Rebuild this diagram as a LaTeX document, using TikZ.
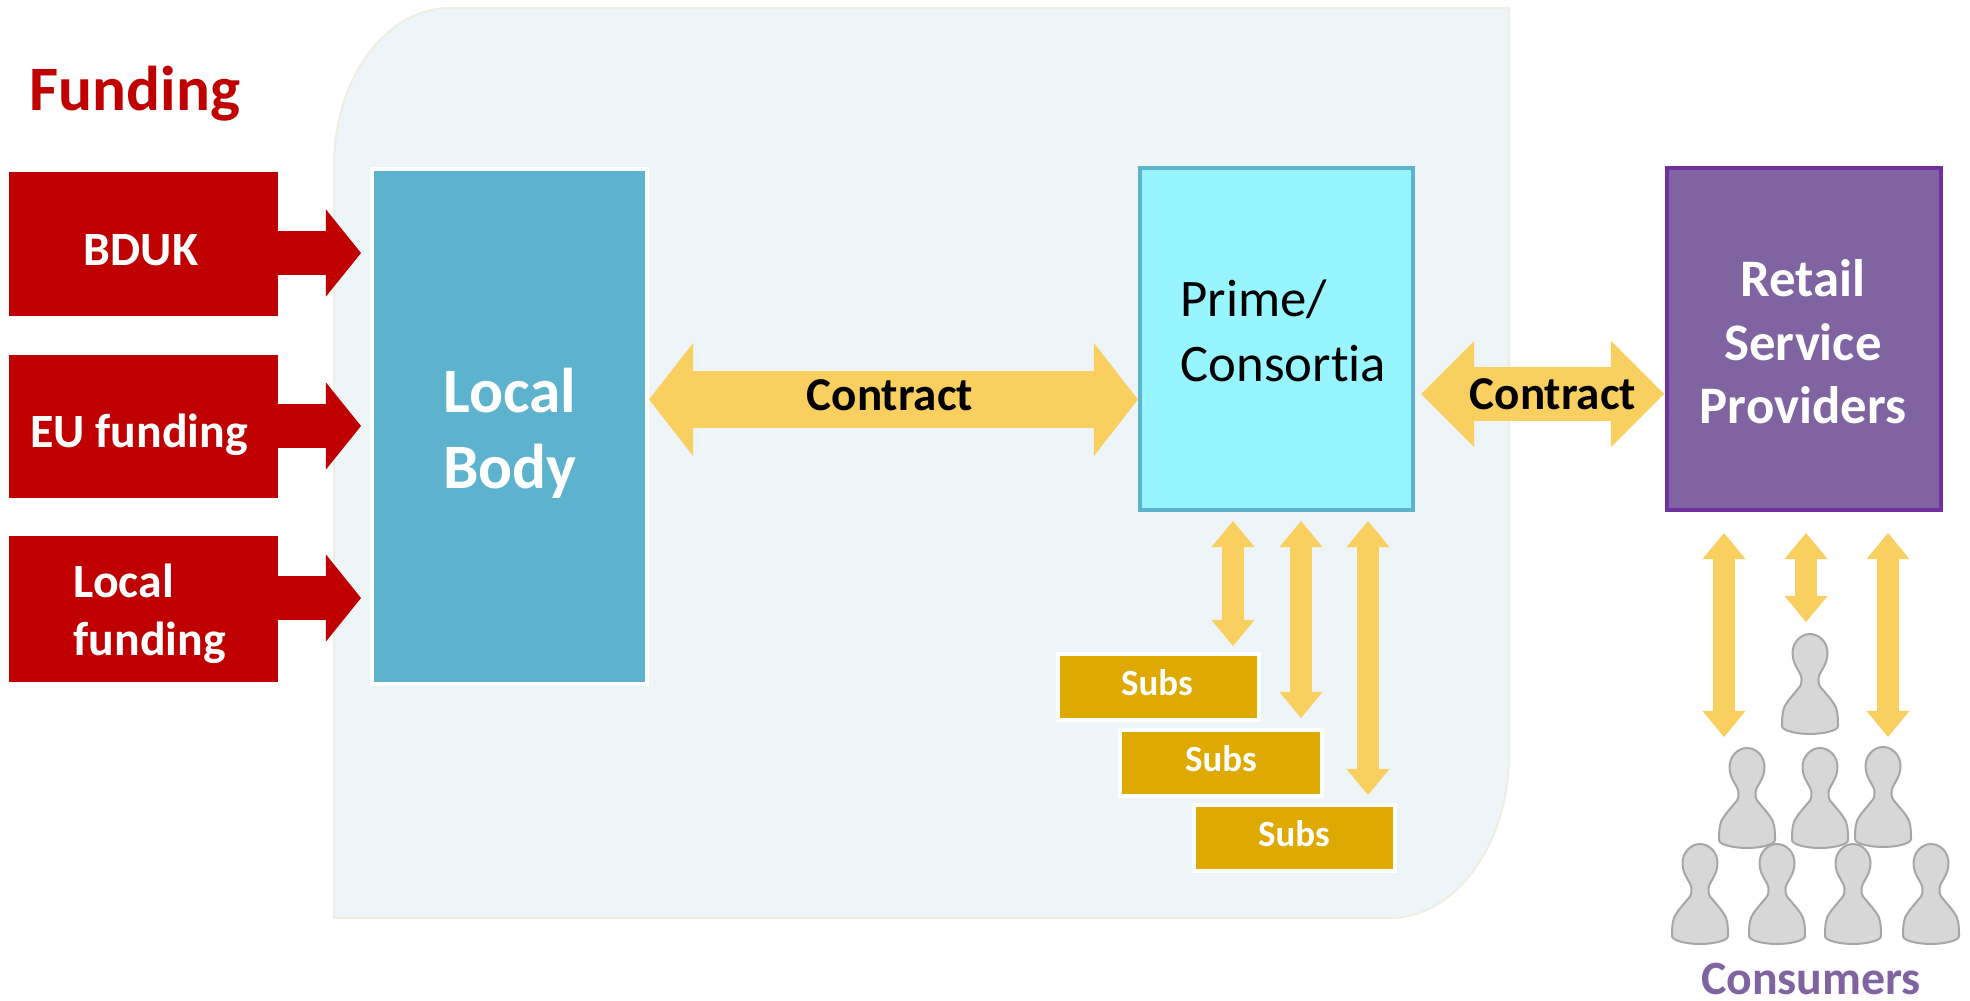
\documentclass[tikz,border=0pt]{standalone}
\usepackage{fontspec}
\setmainfont{Carlito}[Ligatures=NoCommon]
\usepackage{tikz}
\usetikzlibrary{arrows.meta, calc, positioning}
\definecolor{fundred}{RGB}{192,0,0}
\definecolor{panelblue}{RGB}{237,245,248}
\definecolor{paneledge}{RGB}{238,238,226}
\definecolor{bodyblue}{RGB}{93,179,206}
\definecolor{primecyan}{RGB}{151,245,255}
\definecolor{retailpurple}{RGB}{128,100,162}
\definecolor{retailedge}{RGB}{112,48,160}
\definecolor{contractgold}{RGB}{249,207,95}
\definecolor{subsgold}{RGB}{222,169,0}
\definecolor{pawnfill}{RGB}{215,215,215}
\definecolor{pawnedge}{RGB}{166,166,166}

\begin{document}
\begin{tikzpicture}[
  x=0.01cm, y=-0.01cm,
  fund/.style={rectangle, fill=fundred, inner sep=0pt, minimum width=2.69cm},
  fundtext/.style={inner sep=0pt, text=white, font=\fontsize{13.6}{16.4}\selectfont\bfseries, align=left},
  body/.style={rectangle, draw=white, line width=0.04cm, fill=bodyblue, minimum width=2.75cm, minimum height=5.15cm},
  prime/.style={rectangle, draw=bodyblue, line width=0.04cm, fill=primecyan, minimum width=2.73cm, minimum height=3.41cm},
  retail/.style={rectangle, draw=retailedge, line width=0.04cm, fill=retailpurple, minimum width=2.74cm, minimum height=3.41cm},
  subs/.style={rectangle, draw=white, line width=0.04cm, fill=subsgold, minimum width=2.01cm, minimum height=0.66cm},
  subtext/.style={text=white, inner sep=0pt, font=\fontsize{10.5}{12}\selectfont\bfseries},
  fundarrow/.style={-{Triangle[length=0.35cm, width=0.87cm, line width=0pt]}, draw=fundred, line width=0.44cm},
  bigarrow/.style={{Triangle[length=0.44cm, width=1.13cm, line width=0pt]}-{Triangle[length=0.44cm, width=1.13cm, line width=0pt]}, draw=contractgold, line width=0.57cm},
  rsparrow/.style={{Triangle[length=0.53cm, width=1.06cm, line width=0pt]}-{Triangle[length=0.53cm, width=1.06cm, line width=0pt]}, draw=contractgold, line width=0.54cm},
  slimarrow/.style={{Triangle[length=0.26cm, width=0.43cm, line width=0pt]}-{Triangle[length=0.26cm, width=0.43cm, line width=0pt]}, draw=contractgold, line width=0.22cm},
  contract/.style={inner sep=0pt, anchor=base, font=\fontsize{13.4}{16}\selectfont\bfseries},
  pawn/.pic={
    \path[draw=pawnedge, fill=pawnfill, line width=0.02cm]
      (-28,92) .. controls (-28,80) and (-27,74) .. (-24,70)
      .. controls (-21,65) and (-16,60) .. (-13,56)
      .. controls (-9,52) and (-8.5,50) .. (-8.5,45)
      .. controls (-8.5,38) and (-17.5,32) .. (-17.5,19)
      .. controls (-17.5,8) and (-9,0) .. (0,0)
      .. controls (9,0) and (17.5,8) .. (17.5,19)
      .. controls (17.5,32) and (8.5,38) .. (8.5,45)
      .. controls (8.5,50) and (9,52) .. (13,56)
      .. controls (16,60) and (21,65) .. (24,70)
      .. controls (27,74) and (28,80) .. (28,92)
      .. controls (28,97) and (12,100) .. (0,100)
      .. controls (-12,100) and (-28,97) .. (-28,92) -- cycle;
  }
]
\useasboundingbox (0,0) rectangle (1970,1000);

% --- Hintergrund ---
\path[fill=panelblue, draw=paneledge, line width=0.02cm]
  (334,165) .. controls (334,80) and (385,8) .. (450,8) -- (1509,8) -- (1509,755)
  .. controls (1509,845) and (1455,918) .. (1390,918) -- (334,918) -- cycle;

% --- Funding ---
\node[anchor=base west, inner sep=0pt, text=fundred, font=\fontsize{18}{22}\selectfont\bfseries] (fundingtitle) at (29,110) {Funding};
\node[fund, minimum height=1.44cm] (bduk) at (143.5,244) {};
\node[fund, minimum height=1.43cm] (eufund) at (143.5,426.5) {};
\node[fund, minimum height=1.46cm] (localfund) at (143.5,609) {};

% Endpunkte der Pfeile
\coordinate (bdukin) at (361,253);
\coordinate (euin) at (361,426);
\coordinate (localin) at (361,598);
\coordinate (contractleft) at (1421,394);
\coordinate (contractright) at (1664,394);
\coordinate (subsatop) at (1233,521);
\coordinate (subsaend) at (1233,646);
\coordinate (subsbtop) at (1301,521);
\coordinate (subsbend) at (1301,718);
\coordinate (subsctop) at (1368,521);
\coordinate (subscend) at (1368,795);
\coordinate (usera) at (1724,533);
\coordinate (useraend) at (1724,737);
\coordinate (userb) at (1806,533);
\coordinate (userbend) at (1806,622);
\coordinate (userc) at (1888,533);
\coordinate (usercend) at (1888,737);

\draw[fundarrow] (bduk.center |- bdukin) -- (bdukin);
\draw[fundarrow] (eufund.center |- euin) -- (euin);
\draw[fundarrow] (localfund.center |- localin) -- (localin);

\node[fundtext] (bduktext) at (141,250) {BDUK};
\node[fundtext] (eutext) at (139,435) {EU funding};
\node[fundtext, anchor=west] (localtext) at (73,614) {Local\\funding};

% --- Hauptbloecke ---
\node[body] (localbody) at (509.5,426.5) {};
\node[inner sep=0pt, text=white, align=center, font=\fontsize{18}{21.5}\selectfont\bfseries] (localbodytext) at (510,433) {Local\\Body};
\node[prime] (consortia) at (1276.5,339) {};
\node[inner sep=0pt, anchor=west, align=left, font=\fontsize{15}{18.4}\selectfont] (consortiatext) at (1180,331) {Prime/\\Consortia};
\node[retail] (rsp) at (1804,339) {};
\node[inner sep=0pt, text=white, align=center, font=\fontsize{15}{18.1}\selectfont\bfseries] (rsptext) at (1803,342) {Retail\\Service\\Providers};

% --- Subs ---
\node[subs] (subsa) at (1158.5,687) {};
\node[subs] (subsb) at (1221,763) {};
\node[subs] (subsc) at (1294.5,838) {};
\node[subtext] (subsatext) at (1157,683) {Subs};
\node[subtext] (subsbtext) at (1221,759) {Subs};
\node[subtext] (subsctext) at (1294,834) {Subs};

% --- Consumers ---
\foreach \px/\py in {1810/634, 1747/748, 1820/748, 1883/747, 1700/844, 1777/844, 1853/844, 1931/844}
  \pic at (\px,\py) {pawn};
\node[inner sep=0pt, text=retailpurple, font=\fontsize{13.6}{16}\selectfont\bfseries] (consumers) at (1811,979) {Consumers};

% Verbindungen
\draw[bigarrow] (localbody.east |- 0,399.5) -- (consortia.west |- 0,399.5);
\node[contract] (contractmid) at (890,410) {Contract};
\draw[rsparrow] (contractleft) -- (contractright);
\node[contract] (contractrsp) at (1553,409) {Contract};

\draw[slimarrow] (subsatop) -- (subsaend);
\draw[slimarrow] (subsbtop) -- (subsbend);
\draw[slimarrow] (subsctop) -- (subscend);
\draw[slimarrow] (usera) -- (useraend);
\draw[slimarrow] (userb) -- (userbend);
\draw[slimarrow] (userc) -- (usercend);
\end{tikzpicture}
\end{document}
